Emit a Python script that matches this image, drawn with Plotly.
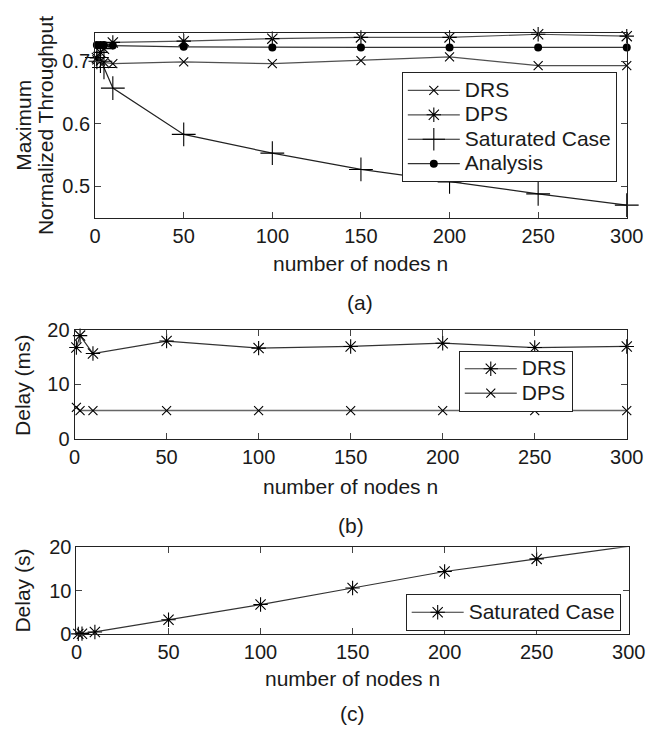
import plotly.graph_objects as go

# ---------------- data ----------------
n_a = [1, 3, 5, 10, 50, 100, 150, 200, 250, 300]
drs_a = [0.702, 0.700, 0.698, 0.696, 0.699, 0.696, 0.701, 0.707, 0.693, 0.693]
dps_a = [0.705, 0.714, 0.720, 0.730, 0.732, 0.736, 0.738, 0.738, 0.743, 0.740]
sat_a = [0.706, 0.700, 0.690, 0.657, 0.583, 0.553, 0.527, 0.507, 0.488, 0.470]
ana_a = [0.726, 0.726, 0.726, 0.725, 0.723, 0.722, 0.722, 0.722, 0.722, 0.722]

n_b = [1, 3, 10, 50, 100, 150, 200, 250, 300]
drs_b = [16.8, 19.0, 15.7, 18.0, 16.7, 17.0, 17.6, 16.8, 17.0]
dps_b = [5.8, 5.2, 5.2, 5.2, 5.2, 5.2, 5.2, 5.2, 5.2]

n_c = [1, 3, 10, 50, 100, 150, 200, 250, 300]
sat_c = [0.05, 0.1, 0.5, 3.3, 6.8, 10.6, 14.4, 17.3, 20.2]

x_ticks = [0, 50, 100, 150, 200, 250, 300]
ya_ticks = [0.5, 0.6, 0.7]
ya_labels = ["0.5", "0.6", "0.7"]
yb_ticks = [0, 10, 20]

# ---------------- layout helpers ----------------
W, H = 665, 736
def fx(p):
    return p / W
def fy(p):
    return 1 - p / H

FONT = "Liberation Sans, Arial, Helvetica, sans-serif"
TXT = "#1a1a1a"
LINE = "#505050"

def lg(name):
    # larger visible text while keeping compact legend row height
    return '<span style="font-size:21px">' + name + '</span>'

fig = go.Figure()

def mk(symbol, size):
    return dict(symbol=symbol, size=size, color="black",
                line=dict(color="black", width=1.1))

# (a)
fig.add_trace(go.Scatter(x=n_a, y=drs_a, name=lg("DRS"), mode="lines+markers",
                         line=dict(color=LINE, width=1.2), marker=mk("x-thin-open", 9),
                         xaxis="x", yaxis="y", legend="legend", cliponaxis=False))
fig.add_trace(go.Scatter(x=n_a, y=dps_a, name=lg("DPS"), mode="lines+markers",
                         line=dict(color=LINE, width=1.2), marker=mk("asterisk-open", 12),
                         xaxis="x", yaxis="y", legend="legend", cliponaxis=False))
fig.add_trace(go.Scatter(x=n_a, y=sat_a, name=lg("Saturated Case"), mode="lines+markers",
                         line=dict(color="#222", width=1.2), marker=mk("cross-thin-open", 17),
                         xaxis="x", yaxis="y", legend="legend", cliponaxis=False))
fig.add_trace(go.Scatter(x=n_a, y=ana_a, name=lg("Analysis"), mode="lines+markers",
                         line=dict(color="#333", width=1.2),
                         marker=dict(symbol="circle", size=8, color="black"),
                         xaxis="x", yaxis="y", legend="legend", cliponaxis=False))
# (b)
fig.add_trace(go.Scatter(x=n_b, y=drs_b, name=lg("DRS"), mode="lines+markers",
                         line=dict(color="#333", width=1.2), marker=mk("asterisk-open", 12),
                         xaxis="x2", yaxis="y2", legend="legend2", cliponaxis=False))
fig.add_trace(go.Scatter(x=n_b, y=dps_b, name=lg("DPS"), mode="lines+markers",
                         line=dict(color="#666", width=1.6), marker=mk("x-thin-open", 9),
                         xaxis="x2", yaxis="y2", legend="legend2", cliponaxis=False))
# (c)
fig.add_trace(go.Scatter(x=n_c, y=sat_c, name=lg("Saturated Case"), mode="lines+markers",
                         line=dict(color="#333", width=1.2), marker=mk("asterisk-open", 12),
                         xaxis="x3", yaxis="y3", legend="legend3", cliponaxis=False))

def xax(domain, anchor):
    return dict(domain=domain, anchor=anchor, range=[0, 300], tickvals=x_ticks,
                ticks="inside", ticklen=6, tickcolor="#444", mirror="allticks",
                showline=True, linecolor="#222", linewidth=1, showgrid=False,
                zeroline=False, tickfont=dict(size=20, color=TXT, family=FONT))

def yax(domain, anchor, rng, tv, tt=None):
    d = dict(domain=domain, anchor=anchor, range=rng, tickvals=tv,
             ticks="inside", ticklen=6, tickcolor="#444", mirror="allticks",
             showline=True, linecolor="#222", linewidth=1, showgrid=False,
             zeroline=False, tickfont=dict(size=20, color=TXT, family=FONT))
    if tt is not None:
        d["ticktext"] = tt
    return d

legend_common = dict(bgcolor="white", bordercolor="#222", borderwidth=1,
                     font=dict(size=16.5, color=TXT, family=FONT), itemwidth=52,
                     xanchor="left", yanchor="top", tracegroupgap=0)

fig.update_layout(
    width=W, height=H, margin=dict(l=0, r=0, t=0, b=0),
    paper_bgcolor="white", plot_bgcolor="white",
    font=dict(family=FONT, size=20, color=TXT),
    xaxis=xax([fx(92.3), fx(643)], "y"),
    yaxis=yax([fy(213), fy(22.7)], "x", [0.45, 0.745], ya_ticks, ya_labels),
    xaxis2=xax([fx(71), fx(643)], "y2"),
    yaxis2=yax([fy(441), fy(329)], "x2", [0, 20], yb_ticks),
    xaxis3=xax([fx(73), fx(645)], "y3"),
    yaxis3=yax([fy(642.3), fy(552.7)], "x3", [0, 20], yb_ticks),
    legend=dict(x=fx(410), y=fy(63), **legend_common),
    legend2=dict(x=fx(469), y=fy(350), **legend_common),
    legend3=dict(x=fx(414), y=fy(601), **legend_common),
    showlegend=True,
)

ann = []
def text(t, x, y, angle=0, size=21):
    ann.append(dict(text=t, x=fx(x), y=fy(y), xref="paper", yref="paper",
                    showarrow=False, textangle=angle, xanchor="center", yanchor="middle",
                    font=dict(size=size, color=TXT, family=FONT)))

text("Maximum", 18, 118, -90)
text("Normalized Throughput", 41, 118, -90)
text("number of nodes n", 367, 260)
text("(a)", 367, 300)
text("Delay (ms)", 17, 385, -90)
text("number of nodes n", 357, 490)
text("(b)", 357, 530)
text("Delay (s)", 17, 597, -90)
text("number of nodes n", 359, 688)
text("(c)", 359, 724)
fig.update_layout(annotations=ann)

fig.write_html("out.html")
